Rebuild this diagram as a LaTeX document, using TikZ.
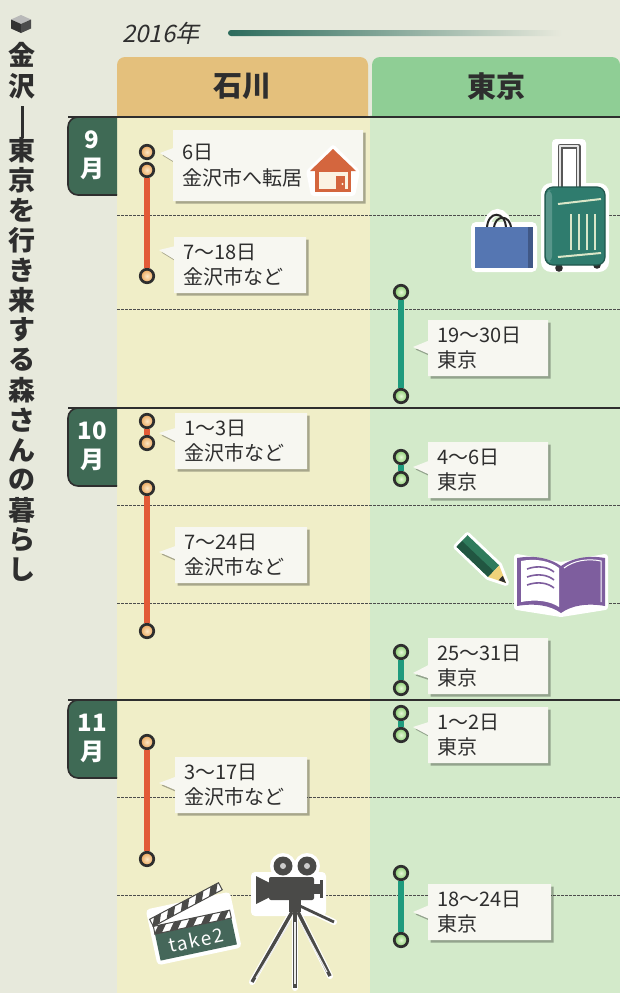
\documentclass[tikz,border=0pt]{standalone}
\usepackage{fontspec}
\setmainfont{Noto Sans CJK JP}
\newfontfamily\yearfont{Noto Sans CJK JP}[FakeSlant=0.22]
\newfontfamily\clapfont{Noto Sans CJK JP}[LetterSpace=8]
\usetikzlibrary{shapes.callouts,shadows}

\definecolor{paper}{HTML}{E7E9DC}
\definecolor{ishicol}{HTML}{F0EEC8}
\definecolor{tokyocol}{HTML}{D3EACA}
\definecolor{ishitab}{HTML}{E4C07C}
\definecolor{tokyotab}{HTML}{8FCE95}
\definecolor{monthgreen}{HTML}{3F6A55}
\definecolor{redseg}{HTML}{E25B37}
\definecolor{greenseg}{HTML}{1E9B7D}
\definecolor{inkdark}{HTML}{2E2E2E}
\definecolor{yearteal}{HTML}{2C6B5C}
\definecolor{stopIin}{HTML}{FBE6C4}
\definecolor{stopIout}{HTML}{EBA356}
\definecolor{stopTin}{HTML}{E6F8D8}
\definecolor{stopTout}{HTML}{86CB6C}
\definecolor{bubblefill}{HTML}{F7F7F1}
\definecolor{houseor}{HTML}{D4663E}
\definecolor{housecream}{HTML}{FBF3E2}
\definecolor{suitteal}{HTML}{2F7C6E}
\definecolor{suitlight}{HTML}{D9E6C8}
\definecolor{bagblue}{HTML}{5576B2}
\definecolor{pencilgreen}{HTML}{2F7B5C}
\definecolor{pencilwood}{HTML}{F0D27A}
\definecolor{bookpurple}{HTML}{7E5E9E}
\definecolor{clapgreen}{HTML}{45675A}
\definecolor{camgray}{HTML}{4A4A48}

\tikzstyle{stopI} = [circle, draw=inkdark, line width=2.7pt, minimum size=13.5pt, inner sep=0pt, inner color=stopIin, outer color=stopIout]
\tikzstyle{stopT} = [circle, draw=inkdark, line width=2.7pt, minimum size=13.5pt, inner sep=0pt, inner color=stopTin, outer color=stopTout]
\tikzstyle{segI} = [draw=redseg, line width=5.5pt]
\tikzstyle{segT} = [draw=greenseg, line width=5.5pt]
\tikzstyle{weekline} = [draw=inkdark!85, line width=0.8pt, dash pattern=on 2.5pt off 1.5pt]
\tikzstyle{monthline} = [draw=inkdark, line width=1.8pt]
\tikzstyle{monthbox} = [fill=monthgreen, draw=inkdark, line width=1.6pt, rounded corners=10pt]
\tikzstyle{monthlbl} = [text=white, align=center, font=\bfseries\fontsize{24}{29}\selectfont]
\tikzstyle{tablbl} = [text=inkdark, font=\bfseries\fontsize{29}{29}\selectfont]
\tikzstyle{titlechar} = [text=inkdark, inner sep=0pt, font=\bfseries\fontsize{27}{27}\selectfont]
\tikzstyle{sticker} = [draw=white, line width=6pt, line join=round, line cap=round]
\tikzset{bubble/.style={rectangle callout, fill=bubblefill, anchor=north west,
    inner xsep=9pt, inner ysep=0pt, text width=#1, minimum height=56pt, align=left,
    callout pointer width=13pt, text=inkdark, font=\fontsize{20}{25.5}\selectfont,
    drop shadow={shadow xshift=2.5pt, shadow yshift=-2.5pt, fill=black, opacity=.3}}}

\begin{document}
\begin{tikzpicture}[x=1pt,y=-1pt]
\useasboundingbox (0,0) rectangle (620,993);
\fill[paper] (0,0) rectangle (620,993);

% columns and tabs
\fill[ishicol] (117,115) rectangle (370,993);
\fill[tokyocol] (370,115) rectangle (620,993);
\fill[ishitab] (117,117) [rounded corners=8pt] -- (117,57) -- (368,57) [sharp corners] -- (368,117) -- cycle;
\fill[tokyotab] (372,117) [rounded corners=8pt] -- (372,57) -- (620,57) [sharp corners] -- (620,117) -- cycle;
\node[tablbl] (ishikawa) at (242,86) {石川};
\node[tablbl] (tokyo) at (496,86) {東京};

% year
\node[anchor=west, inner sep=0pt, text=inkdark, font=\yearfont\fontsize{24}{24}\selectfont] (year) at (122,33) {2016年};
\shade[left color=yearteal, middle color=yearteal!70!paper, right color=paper, rounded corners=3pt] (228,30) rectangle (562,36);

% title
\fill[gray!55] (21,15) -- (31,19.5) -- (21,24) -- (11,19.5) -- cycle;
\fill[gray!40!black] (11,19.5) -- (21,24) -- (21,33) -- (11,28.5) -- cycle;
\fill[gray!60!black] (21,24) -- (31,19.5) -- (31,28.5) -- (21,33) -- cycle;
\node[titlechar] (kin) at (22,55) {金};
\node[titlechar] (sawa) at (22,86) {沢};
\draw[inkdark, line width=3pt] (22,106) -- (22,138);
\foreach \ch [count=\k from 0] in {東,京,を,行,き,来,す,る,森,さ,ん,の,暮,ら,し}
  \node[titlechar] (title\k) at (22,150+30*\k) {\ch};

% weeks
\foreach \wy in {215,309,505,603,797,895}
  \draw[weekline] (117,\wy) -- (620,\wy);

% months
\filldraw[monthbox] (117,195) -- (68,195) -- (68,117) -- (117,117);
\filldraw[monthbox] (117,486) -- (68,486) -- (68,408) -- (117,408);
\filldraw[monthbox] (117,778) -- (68,778) -- (68,700) -- (117,700);
\draw[monthline] (68,117) -- (620,117);
\draw[monthline] (68,408) -- (620,408);
\draw[monthline] (68,700) -- (620,700);
\node[monthlbl] (sep) at (92,155) {9\\月};
\node[monthlbl] (oct) at (92,446) {10\\月};
\node[monthlbl] (nov) at (92,738) {11\\月};

% ishikawa stops
\node[stopI] (s6) at (147,152) {};
\node[stopI] (s7) at (147,170) {};
\node[stopI] (s18) at (147,276) {};
\node[stopI] (o1) at (147,421) {};
\node[stopI] (o3) at (147,443) {};
\node[stopI] (o7) at (147,488) {};
\node[stopI] (o24) at (147,631) {};
\node[stopI] (n3) at (147,742) {};
\node[stopI] (n17) at (147,859) {};
\draw[segI] (s7) -- (s18);
\draw[segI] (o1) -- (o3);
\draw[segI] (o7) -- (o24);
\draw[segI] (n3) -- (n17);

% tokyo stops
\node[stopT] (s19) at (401,292) {};
\node[stopT] (s30) at (401,396) {};
\node[stopT] (o4) at (401,457) {};
\node[stopT] (o6) at (401,479) {};
\node[stopT] (o25) at (401,652) {};
\node[stopT] (o31) at (401,688) {};
\node[stopT] (n1) at (401,713) {};
\node[stopT] (n2) at (401,735) {};
\node[stopT] (n18) at (401,873) {};
\node[stopT] (n24) at (401,940) {};
\draw[segT] (s19) -- (s30);
\draw[segT] (o4) -- (o6);
\draw[segT] (o25) -- (o31);
\draw[segT] (n1) -- (n2);
\draw[segT] (n18) -- (n24);

% callouts
\node[bubble=172pt, minimum height=71pt, callout absolute pointer={(160,153)}] (sepmove) at (173,130) {6日\\金沢市へ転居};
\node[bubble=114pt, callout absolute pointer={(159,250)}] (sepstay) at (174,237) {7～18日\\金沢市など};
\node[bubble=114pt, callout absolute pointer={(159,433)}] (octstayA) at (175,413) {1～3日\\金沢市など};
\node[bubble=114pt, callout absolute pointer={(159,552)}] (octstayB) at (175,527) {7～24日\\金沢市など};
\node[bubble=114pt, callout absolute pointer={(159,783)}] (novstay) at (175,757) {3～17日\\金沢市など};
\node[bubble=102pt, callout absolute pointer={(413,347)}] (septokyo) at (428,320) {19～30日\\東京};
\node[bubble=102pt, callout absolute pointer={(413,467)}] (octtokyoA) at (428,442) {4～6日\\東京};
\node[bubble=102pt, callout absolute pointer={(413,673)}] (octtokyoB) at (428,638) {25～31日\\東京};
\node[bubble=102pt, callout absolute pointer={(413,727)}] (novtokyoA) at (428,707) {1～2日\\東京};
\node[bubble=105pt, callout absolute pointer={(413,912)}] (novtokyoB) at (428,884) {18～24日\\東京};

% house
\fill[white, rounded corners=3pt] (306,171) -- (333,144) -- (360,171) -- (355,196) -- (311,196) -- cycle;
\fill[houseor] (310,171) -- (333,149) -- (356,171) -- cycle;
\fill[houseor] (315,167) rectangle (351,192);
\fill[housecream] (318.5,172) rectangle (347.5,189);
\fill[houseor] (336,176) rectangle (345,192);
\fill[housecream] (342.5,184) circle (1.2pt);

% suitcase
\fill[white, rounded corners=10pt] (541,183) rectangle (609,272);
\fill[white, rounded corners=4pt] (552,139) rectangle (586,190);
\draw[inkdark!80, line width=5pt, line join=round] (560,188) -- (560,146) -- (578,146) -- (578,188);
\draw[gray!20, line width=2.4pt, line join=round] (560,188) -- (560,146) -- (578,146) -- (578,188);
\fill[inkdark] (559,268) circle (3.8pt);
\fill[inkdark] (597,265) circle (3.8pt);
\fill[suitteal, rounded corners=8pt] (545,187) rectangle (605,265);
\fill[suitteal!80!white, rounded corners=6pt] (546,190) rectangle (552,262);
\draw[suitteal!70!black, line width=1.2pt, rounded corners=8pt] (545,187) rectangle (605,265);
\foreach \sx in {571,579,587,595}
  \draw[suitlight, line width=1.6pt] (\sx,214) -- (\sx,250);
\draw[suitlight, line width=2pt] (558,204) -- (601,199);
\draw[suitlight, line width=2pt] (558,257) -- (601,253);

% bag
\fill[white, rounded corners=5pt] (471,222) rectangle (537,272);
\draw[white, line width=7pt] (487,229) .. controls (487,207) and (508,207) .. (508,229);
\draw[gray!30!black, line width=2pt] (487,229) .. controls (487,210) and (506,210) .. (506,229);
\draw[gray!30!black, line width=2pt] (494,229) .. controls (494,214) and (511,214) .. (511,229);
\fill[bagblue] (475,227) rectangle (533,268);
\fill[bagblue!75!black] (528,227) rectangle (533,268);

% pencil
\filldraw[sticker, fill=white] (456.5,546.8) -- (467.5,535.2) -- (499.2,565.4) -- (506,583) -- (488.2,577.0) -- cycle;
\fill[pencilgreen] (456.5,546.8) -- (467.5,535.2) -- (499.2,565.4) -- (488.2,577.0) -- cycle;
\fill[pencilgreen!70!black] (456.5,546.8) -- (462,541) -- (493.7,571.2) -- (488.2,577.0) -- cycle;
\fill[pencilwood] (488.2,577.0) -- (499.2,565.4) -- (506,583) -- cycle;
\fill[inkdark] (498.6,580.2) -- (502.8,575.8) -- (506,583) -- cycle;

% book
\filldraw[sticker, fill=white] (517,557) -- (561,565) -- (605,557) -- (605,607) -- (561,614) -- (517,607) -- cycle;
\fill[bookpurple] (517,558) .. controls (534,555) and (550,558) .. (561,566) .. controls (572,558) and (588,555) .. (605,558) -- (605,606) .. controls (588,603) and (572,605) .. (561,613) .. controls (550,605) and (534,603) .. (517,606) -- cycle;
\fill[white] (521,561) .. controls (536,558) and (550,561) .. (559,568) -- (559,607) .. controls (550,601) and (536,599) .. (521,602) -- cycle;
\draw[white, line width=1pt] (564,568) .. controls (573,561) and (587,558) .. (601,561) -- (601,602);
\foreach \dy in {0,8,16}
  \draw[bookpurple, line width=1.6pt] (527,569+\dy) .. controls (538,565+\dy) and (548,567+\dy) .. (554,572+\dy);

% clapperboard
\begin{scope}[shift={(194,930)}, rotate=12]
  \fill[white, rounded corners=4pt] (-43,-30) rectangle (43,27);
  \fill[clapgreen] (-39,-4) rectangle (39,23);
  \node[text=white, transform shape, inner sep=0pt, font=\clapfont\fontsize{19}{19}\selectfont] (take) at (0,10) {take2};
  \fill[white] (-39,-12) rectangle (39,-4);
  \foreach \sx in {-34,-18,...,30}
    \fill[camgray] (\sx,-12) -- (\sx+8,-12) -- (\sx+2,-4) -- (\sx-6,-4) -- cycle;
  \draw[camgray, line width=1pt] (-39,-12) rectangle (39,-4);
  \begin{scope}[rotate around={16:(-39,-12)}]
    \fill[white] (-39,-20) rectangle (39,-12);
    \foreach \sx in {-34,-18,...,30}
      \fill[camgray] (\sx,-20) -- (\sx+8,-20) -- (\sx+2,-12) -- (\sx-6,-12) -- cycle;
    \draw[camgray, line width=1pt] (-39,-20) rectangle (39,-12);
  \end{scope}
\end{scope}

% movie camera
\fill[white] (283,866) circle (13pt);
\fill[white] (307,866) circle (13pt);
\fill[white, rounded corners=4pt] (251,872) rectangle (326,916);
\draw[sticker] (292,912) -- (252,982);
\draw[sticker] (295,912) -- (295,988);
\draw[sticker] (298,912) -- (330,976);
\draw[sticker] (300,906) -- (334,922);
\draw[camgray, line width=3.4pt] (292,912) -- (252,982);
\draw[camgray, line width=3.4pt] (295,912) -- (295,988);
\draw[camgray, line width=3.4pt] (298,912) -- (330,976);
\draw[camgray, line width=2.8pt] (300,906) -- (334,922);
\draw[gray!15, line width=1.2pt] (290,922) -- (256,978);
\draw[gray!15, line width=1.2pt] (295,922) -- (295,984);
\draw[gray!15, line width=1.2pt] (300,922) -- (327,972);
\fill[camgray] (283,866) circle (9.5pt);
\fill[camgray] (307,866) circle (9.5pt);
\fill[gray!40] (283,866) circle (3pt);
\fill[gray!40] (307,866) circle (3pt);
\fill[camgray, rounded corners=2pt] (269,877) rectangle (314,900);
\fill[camgray] (270,883) -- (256,876) -- (256,904) -- (270,897) -- cycle;
\fill[camgray] (314,884) rectangle (320,894);
\fill[camgray] (320,880) rectangle (323,898);
\fill[camgray] (289,900) rectangle (301,912);
\end{tikzpicture}
\end{document}
